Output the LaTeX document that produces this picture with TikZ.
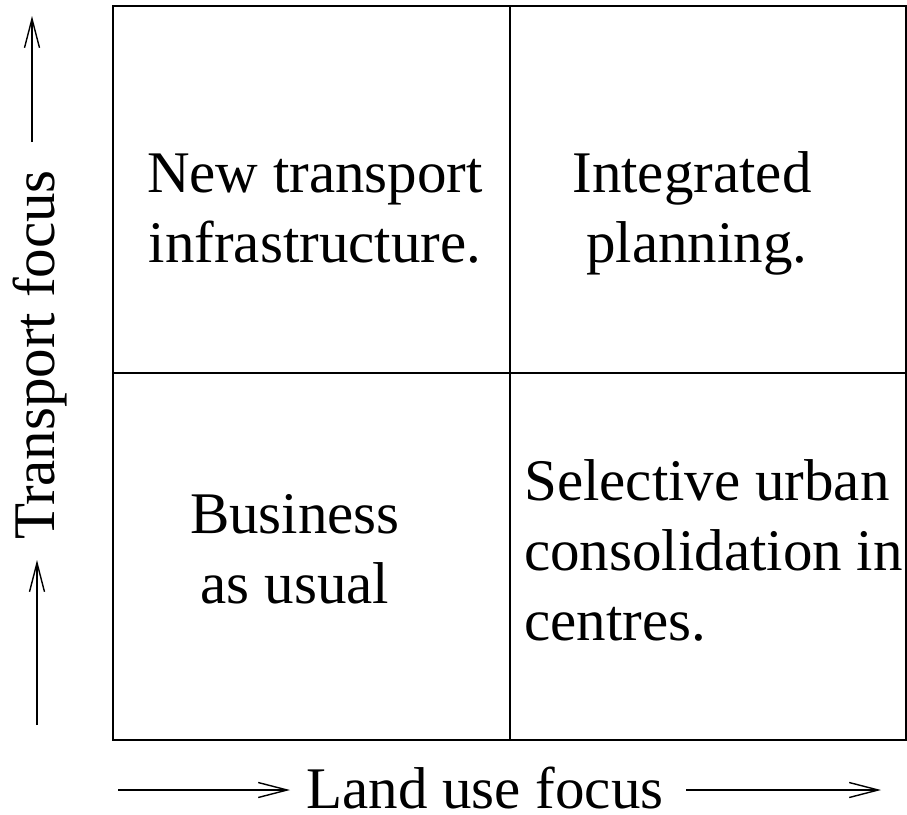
\documentclass[tikz,border=0pt]{standalone}
\usepackage{fontspec}
\setmainfont{Liberation Serif}
\usetikzlibrary{arrows.meta}
\begin{document}
\begin{tikzpicture}[x=1pt,y=-1pt,
  grid/.style={line width=1.6pt},
  axis/.style={line width=1.6pt,-{Straight Barb[length=29pt,width=15pt,line width=1.4pt]}},
  lbl/.style={font=\fontsize{59}{70}\selectfont, inner sep=0pt, anchor=base},
  cell/.style={font=\fontsize{59}{70}\selectfont, inner sep=0pt, align=center}]
\useasboundingbox (0,0) rectangle (907,814);
\draw[grid] (113,6) rectangle (906,740);
\draw[grid] (510,6) -- (510,740);
\draw[grid] (113,373) -- (906,373);
% cells
\node[cell, anchor=base] (tl1) at (315,192) {New transport};
\node[cell, anchor=base] (tl2) at (315,262) {infrastructure.};
\node[cell, anchor=base] (tr1) at (692,192) {Integrated};
\node[cell, anchor=base] (tr2) at (697,262) {planning.};
\node[cell, anchor=base] (bl1) at (295,533) {Business};
\node[cell, anchor=base] (bl2) at (295,603) {as usual};
\node[cell, anchor=base west] (br1) at (524,500) {Selective urban};
\node[cell, anchor=base west] (br2) at (524,570) {consolidation in};
\node[cell, anchor=base west] (br3) at (524,640) {centres.};
% axis labels
\node[lbl] (land) at (485,808) {Land use focus};
\node[lbl, rotate=90] (trans) at (54,355) {Transport focus};
% arrows
\coordinate (ha) at (118,790);
\coordinate (hb) at (290,790);
\coordinate (hc) at (686,790);
\coordinate (hd) at (881,790);
\draw[axis] (ha) -- (hb);
\draw[axis] (hc) -- (hd);
\coordinate (va) at (32,142);
\coordinate (vb) at (32,16);
\coordinate (vc) at (37,725);
\coordinate (vd) at (37,560);
\draw[axis] (va) -- (vb);
\draw[axis] (vc) -- (vd);
\end{tikzpicture}
\end{document}
